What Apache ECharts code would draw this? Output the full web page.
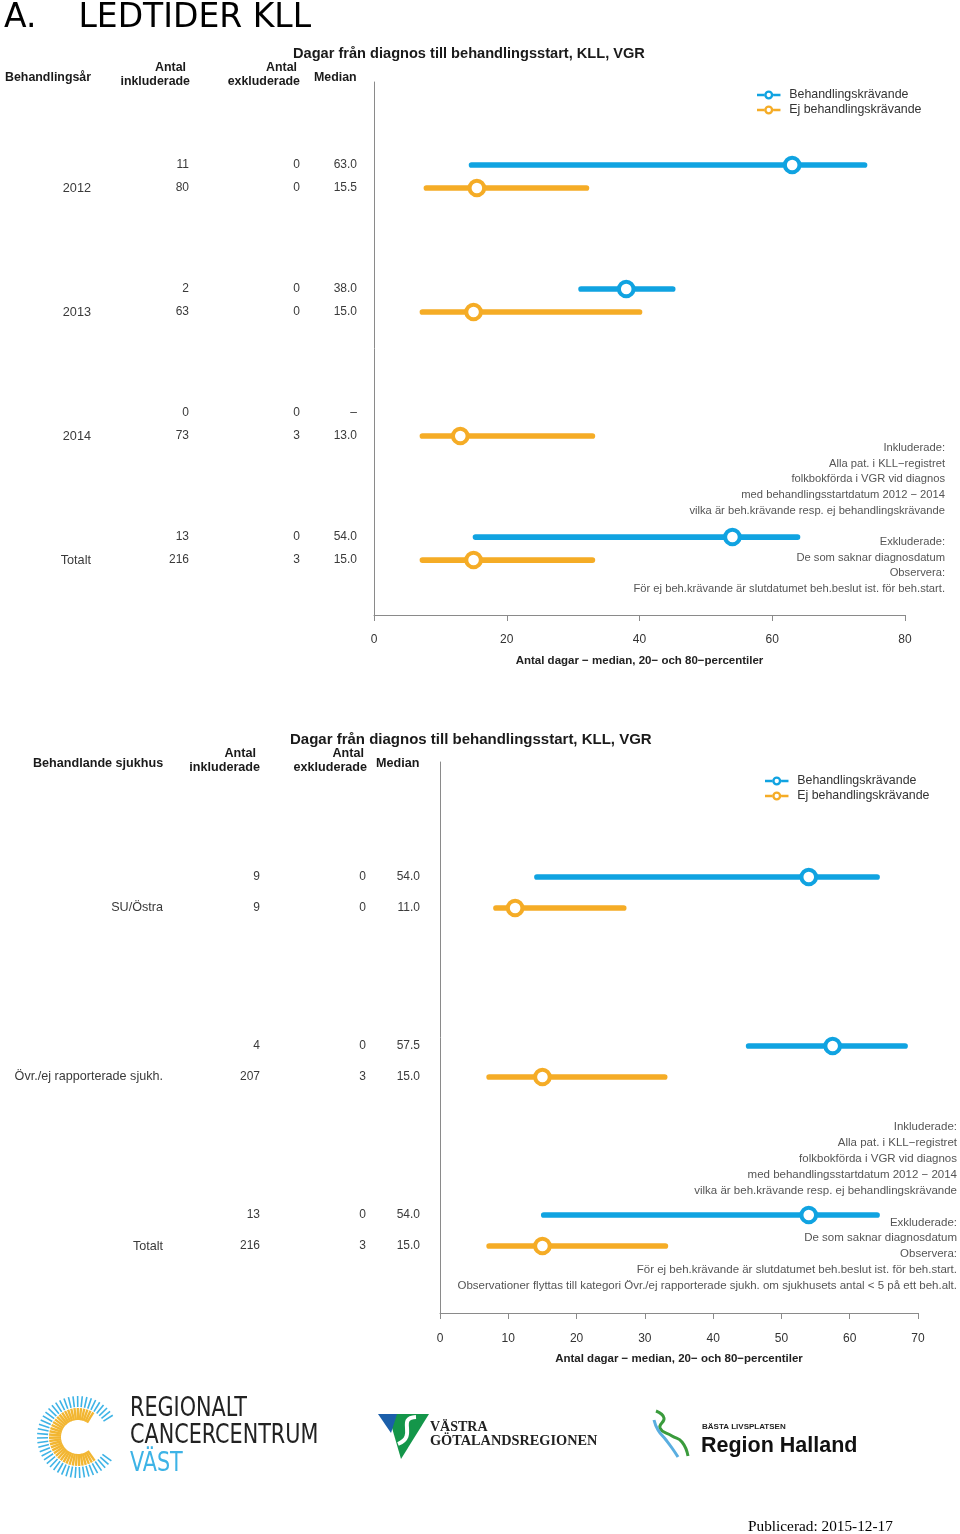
<!DOCTYPE html>
<html>
<head>
<meta charset="utf-8">
<script src="https://cdn.jsdelivr.net/npm/echarts@6/dist/echarts.min.js"></script>
<style>
html,body{margin:0;padding:0;background:#fff;}
#main{width:960px;height:1534px;}
</style>
</head>
<body>
<div id="main"></div>
<script>
// ---------- DATA ----------
// Chart 1: by treatment year
const years = ['2012', '2013', '2014', 'Totalt'];
const yrInklBeh = [11, 2, 0, 13];
const yrInklEj  = [80, 63, 73, 216];
const yrExklBeh = [0, 0, 0, 0];
const yrExklEj  = [0, 0, 3, 3];
const yrMedBeh  = [63.0, 38.0, null, 54.0];
const yrLoBeh   = [14.7, 31.2, null, 15.3];
const yrHiBeh   = [73.9, 45.0, null, 63.8];
const yrMedEj   = [15.5, 15.0, 13.0, 15.0];
const yrLoEj    = [7.9, 7.3, 7.3, 7.3];
const yrHiEj    = [32.0, 40.0, 32.9, 32.9];
const yrTicks   = [0, 20, 40, 60, 80];

// Chart 2: by treating hospital
const hospitals = ['SU/Östra', 'Övr./ej rapporterade sjukh.', 'Totalt'];
const hsInklBeh = [9, 4, 13];
const hsInklEj  = [9, 207, 216];
const hsExklBeh = [0, 0, 0];
const hsExklEj  = [0, 3, 3];
const hsMedBeh  = [54.0, 57.5, 54.0];
const hsLoBeh   = [14.2, 45.2, 15.2];
const hsHiBeh   = [64.0, 68.1, 64.0];
const hsMedEj   = [11.0, 15.0, 15.0];
const hsLoEj    = [8.2, 7.2, 7.2];
const hsHiEj    = [26.9, 32.9, 33.0];
const hsTicks   = [0, 10, 20, 30, 40, 50, 60, 70];

const seriesNames = ['Behandlingskrävande', 'Ej behandlingskrävande'];

// ---------- STYLE ----------
const BLUE = '#10a3e1', ORANGE = '#f5ac26';
const SANS = "'Liberation Sans', Arial, sans-serif";
const fmt = v => v == null ? '–' : v.toFixed(1);

function rangeSeries(name, color, lo, med, hi, ai, off) {
  const data = [];
  med.forEach((m, i) => { if (m != null) data.push([lo[i], m, hi[i], i]); });
  return {
    type: 'custom', name: name, xAxisIndex: ai, yAxisIndex: ai, clip: false,
    itemStyle: { color: color }, silent: true,
    encode: { x: [0, 1, 2], y: 3 },
    data: data,
    renderItem: function (params, api) {
      const g = api.value(3);
      const y = api.coord([0, g])[1] + off;
      const x1 = api.coord([api.value(0), g])[0];
      const xm = api.coord([api.value(1), g])[0];
      const x2 = api.coord([api.value(2), g])[0];
      return {
        type: 'group', children: [
          { type: 'line', shape: { x1: x1, y1: y, x2: x2, y2: y },
            style: { stroke: color, lineWidth: 5.7, lineCap: 'round' } },
          { type: 'circle', shape: { cx: xm, cy: y, r: 7.3 },
            style: { fill: '#fff', stroke: color, lineWidth: 4 } }
        ]
      };
    }
  };
}

function textSeries(ai, n, off, cols) {
  const data = [];
  for (let i = 0; i < n; i++) data.push([0, i]);
  return {
    type: 'custom', xAxisIndex: ai, yAxisIndex: ai, clip: false, silent: true,
    encode: { x: 0, y: 1 }, data: data,
    renderItem: function (params, api) {
      const i = params.dataIndex;
      const y = api.coord([0, api.value(1)])[1] + off;
      return {
        type: 'group',
        children: cols.map(c => ({
          type: 'text', x: c.x, y: y,
          style: { text: String(c.vals[i]), align: 'right', verticalAlign: 'middle',
                   fontFamily: SANS, fontSize: c.size || 12, fill: '#3a3a3a' }
        }))
      };
    }
  };
}

const iconPath = 'path://M0,3.8H7.6V6.2H0Z M16.4,3.8H24V6.2H16.4Z ' +
  'M16.6,5A4.6,4.6 0 1,0 7.4,5A4.6,4.6 0 1,0 16.6,5Z ' +
  'M9.8,5A2.2,2.2 0 1,1 14.2,5A2.2,2.2 0 1,1 9.8,5Z';

function hdr(x, y, text, align, size) {
  return { type: 'text', x: x, y: y, silent: true,
    style: { text: text, align: align || 'left', verticalAlign: 'middle',
             fontFamily: SANS, fontWeight: 'bold', fontSize: size || 12.4, fill: '#1a1a1a' } };
}
function note(x, y, text, lh, size) {
  return { type: 'text', x: x, y: y, silent: true,
    style: { text: text, align: 'right', verticalAlign: 'top', lineHeight: lh,
             fontFamily: SANS, fontSize: size, fill: '#555' } };
}

const notes1 = ['Inkluderade:', 'Alla pat. i KLL−registret', 'folkbokförda i VGR vid diagnos',
  'med behandlingsstartdatum 2012 − 2014', 'vilka är beh.krävande resp. ej behandlingskrävande', '',
  'Exkluderade:', 'De som saknar diagnosdatum', 'Observera:',
  'För ej beh.krävande är slutdatumet beh.beslut ist. för beh.start.'];
const notes2 = notes1.concat(['Observationer flyttas till kategori Övr./ej rapporterade sjukh. om sjukhusets antal < 5 på ett beh.alt.']);

// ---------- LOGO DECORATION ----------
const logo = [];
(function () {
  const cx = 78, cy = 1437;
  for (let a = 32; a <= 328; a += 6.5) {
    const t = a * Math.PI / 180;
    const c = Math.cos(t), s = -Math.sin(t);
    logo.push({ type: 'line', silent: true,
      shape: { x1: cx + c * 30, y1: cy + s * 30, x2: cx + c * 41, y2: cy + s * 41 },
      style: { stroke: '#3db3e6', lineWidth: 1.6 } });
    if (a >= 55 && a <= 305) {
      logo.push({ type: 'line', silent: true,
        shape: { x1: cx + c * 17, y1: cy + s * 17, x2: cx + c * 29, y2: cy + s * 29 },
        style: { stroke: '#f2b632', lineWidth: 2.4 } });
    }
  }
})();
const RCCFONT = "'Liberation Sans Narrow', 'DejaVu Sans Condensed', sans-serif";
function rcc(y, text, fill) {
  return { type: 'text', x: 130, y: y, scaleX: 0.887, silent: true,
    style: { text: text, fontFamily: RCCFONT, fontSize: 26, fill: fill, verticalAlign: 'middle' } };
}
logo.push(
  rcc(1409, 'REGIONALT', '#222'), rcc(1436, 'CANCERCENTRUM', '#222'), rcc(1464, 'VÄST', '#3db3e6'),
  // Västra Götalandsregionen
  { type: 'polygon', silent: true, shape: { points: [[388, 1414], [429, 1414], [401, 1459]] }, style: { fill: '#14964a' } },
  { type: 'polygon', silent: true, shape: { points: [[378, 1414], [397, 1414], [391, 1433]] }, style: { fill: '#1b5faa' } },
  { type: 'bezierCurve', silent: true, shape: { x1: 416, y1: 1417, cpx1: 396, cpy1: 1418, cpx2: 418, cpy2: 1436, x2: 398, y2: 1444 }, style: { stroke: '#fff', lineWidth: 4, fill: 'none' } },
  { type: 'text', x: 430, y: 1427, silent: true, style: { text: 'VÄSTRA', fontFamily: "'Liberation Serif', serif", fontSize: 14, fontWeight: 'bold', fill: '#222', verticalAlign: 'middle' } },
  { type: 'text', x: 430, y: 1441, silent: true, style: { text: 'GÖTALANDSREGIONEN', fontFamily: "'Liberation Serif', serif", fontSize: 14.3, fontWeight: 'bold', fill: '#222', verticalAlign: 'middle' } },
  // Region Halland
  { type: 'polyline', silent: true, shape: { smooth: 0.5, points: [[656, 1411], [664, 1418], [660, 1428], [672, 1436], [682, 1442], [688, 1456]] }, style: { stroke: '#3a9b3c', lineWidth: 3, fill: 'none' } },
  { type: 'polyline', silent: true, shape: { smooth: 0.5, points: [[654, 1420], [658, 1430], [666, 1440], [672, 1448], [678, 1457]] }, style: { stroke: '#5aaee0', lineWidth: 3, fill: 'none' } },
  { type: 'text', x: 702, y: 1427, silent: true, style: { text: 'BÄSTA LIVSPLATSEN', fontFamily: SANS, fontSize: 8, fontWeight: 'bold', fill: '#222', verticalAlign: 'middle' } },
  { type: 'text', x: 701, y: 1446, silent: true, style: { text: 'Region Halland', fontFamily: SANS, fontSize: 21.5, fontWeight: 'bold', fill: '#111', verticalAlign: 'middle' } },
  { type: 'text', x: 748, y: 1527, silent: true, style: { text: 'Publicerad: 2015-12-17', fontFamily: "'Liberation Serif', serif", fontSize: 15.3, fill: '#000', verticalAlign: 'middle' } }
);

// ---------- OPTION ----------
const axisGray = '#8a8a8a';
function xAx(gi, ticks, margin, gap) {
  return {
    type: 'value', gridIndex: gi, min: ticks[0], max: ticks[ticks.length - 1],
    interval: ticks[1] - ticks[0],
    axisLine: { show: true, onZero: false, lineStyle: { color: axisGray, width: 1 } },
    axisTick: { show: true, length: 6, lineStyle: { color: axisGray } },
    splitLine: { show: false },
    axisLabel: { fontFamily: SANS, fontSize: 12, color: '#333', margin: margin },
    name: 'Antal dagar − median, 20− och 80−percentiler', nameLocation: 'middle', nameGap: gap,
    nameTextStyle: { fontFamily: SANS, fontSize: 11.5, fontWeight: 'bold', color: '#222' }
  };
}
function yAx(gi, min, max) {
  return {
    type: 'value', gridIndex: gi, inverse: true, min: min, max: max,
    axisLine: { show: true, onZero: false, lineStyle: { color: axisGray, width: 1 } },
    axisTick: { show: false }, axisLabel: { show: false }, splitLine: { show: false }
  };
}
function legendAt(left, top) {
  return {
    orient: 'vertical', left: left, top: top, data: seriesNames,
    icon: iconPath, itemWidth: 25, itemHeight: 9, itemGap: 3,
    selectedMode: false,
    textStyle: { fontFamily: SANS, fontSize: 12.4, color: '#333', lineHeight: 12, padding: [0, 0, 0, 3] }
  };
}

const option = {
  animation: false,
  backgroundColor: '#fff',
  grid: [
    { left: 374, top: 82, width: 531, height: 533 },
    { left: 440, top: 762, width: 478, height: 551 }
  ],
  xAxis: [xAx(0, yrTicks, 19, 40), xAx(1, hsTicks, 20, 40)],
  yAxis: [yAx(0, -0.762, 3.536), yAx(1, -0.772, 2.488)],
  legend: [legendAt(752, 84), legendAt(760, 770)],
  series: [
    rangeSeries(seriesNames[0], BLUE, yrLoBeh, yrMedBeh, yrHiBeh, 0, -11.5),
    rangeSeries(seriesNames[1], ORANGE, yrLoEj, yrMedEj, yrHiEj, 0, 11.5),
    rangeSeries(seriesNames[0], BLUE, hsLoBeh, hsMedBeh, hsHiBeh, 1, -15.5),
    rangeSeries(seriesNames[1], ORANGE, hsLoEj, hsMedEj, hsHiEj, 1, 15.5),
    textSeries(0, years.length, -11.5, [
      { x: 189, vals: yrInklBeh }, { x: 300, vals: yrExklBeh }, { x: 357, vals: yrMedBeh.map(fmt) }]),
    textSeries(0, years.length, 11.5, [
      { x: 91, vals: years, size: 12.7 },
      { x: 189, vals: yrInklEj }, { x: 300, vals: yrExklEj }, { x: 357, vals: yrMedEj.map(fmt) }]),
    textSeries(1, hospitals.length, -15.5, [
      { x: 260, vals: hsInklBeh }, { x: 366, vals: hsExklBeh }, { x: 420, vals: hsMedBeh.map(fmt) }]),
    textSeries(1, hospitals.length, 15.5, [
      { x: 163, vals: hospitals, size: 12.6 },
      { x: 260, vals: hsInklEj }, { x: 366, vals: hsExklEj }, { x: 420, vals: hsMedEj.map(fmt) }])
  ],
  graphic: [
    { type: 'text', x: 4, y: 18, silent: true,
      style: { text: 'A.    LEDTIDER KLL', fontFamily: "'DejaVu Sans', Verdana, sans-serif", fontSize: 33, fill: '#000', verticalAlign: 'middle' } },
    // chart 1 headers
    hdr(293, 54, 'Dagar från diagnos till behandlingsstart, KLL, VGR', 'left', 14.6),
    hdr(5, 78, 'Behandlingsår'),
    hdr(186, 68, 'Antal', 'right'), hdr(190, 82, 'inkluderade', 'right'),
    hdr(297, 68, 'Antal', 'right'), hdr(300, 82, 'exkluderade', 'right'),
    hdr(314, 78, 'Median'),
    note(945, 440, notes1.join('\n'), 15.67, 11.2),
    // chart 2 headers
    hdr(290, 740, 'Dagar från diagnos till behandlingsstart, KLL, VGR', 'left', 15),
    hdr(33, 764, 'Behandlande sjukhus', 'left', 12.6),
    hdr(256, 754, 'Antal', 'right', 12.6), hdr(260, 768, 'inkluderade', 'right', 12.6),
    hdr(364, 754, 'Antal', 'right', 12.6), hdr(367, 768, 'exkluderade', 'right', 12.6),
    hdr(376, 764, 'Median', 'left', 12.6),
    note(957, 1119, notes2.join('\n'), 15.9, 11.5)
  ].concat(logo)
};

const chart = echarts.init(document.getElementById('main'), null, { renderer: 'canvas', width: 960, height: 1534 });
chart.setOption(option);
</script>
</body>
</html>
